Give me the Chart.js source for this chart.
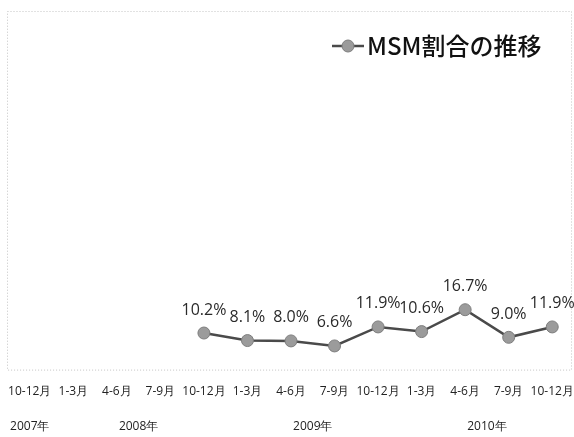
<!DOCTYPE html>
<html>
<head>
<meta charset="utf-8">
<script src="https://cdn.jsdelivr.net/npm/chart.js@4"></script>
<style>
  html, body { margin: 0; padding: 0; background: #fff; }
  #wrap { width: 574px; height: 437px; position: relative; }
</style>
</head>
<body>
<div id="wrap"><canvas id="c" width="574" height="437"></canvas></div>
<script>
// ---- data ----
const quarterLabels = ['10-12月','1-3月','4-6月','7-9月','10-12月','1-3月','4-6月','7-9月','10-12月','1-3月','4-6月','7-9月','10-12月'];
const msmShare = [null, null, null, null, 10.2, 8.1, 8.0, 6.6, 11.9, 10.6, 16.7, 9.0, 11.9];
const yearLabels = ['2007年','2008年','2009年','2010年'];
const yearFirstIndex = [0, 1, 5, 9];
const yearLastIndex = [0, 4, 8, 12];
const seriesName = 'MSM割合の推移';

const LABEL_FONT = '"Open Sans", "Noto Sans", sans-serif';
const CJK_FONT = '"Noto Sans CJK JP", "Noto Sans", sans-serif';

const decor = {
  id: 'decor',
  beforeDatasetsDraw(chart) {
    const { ctx, chartArea: a } = chart;
    ctx.save();
    ctx.strokeStyle = '#c4c4c4';
    ctx.lineWidth = 1;
    ctx.setLineDash([1, 2]);
    ctx.strokeRect(a.left - 0.5, a.top + 0.5, a.right - a.left - 2, a.bottom - a.top);
    ctx.restore();
  },
  afterDatasetsDraw(chart) {
    const { ctx, chartArea: a } = chart;
    const meta = chart.getDatasetMeta(0);
    const ds = chart.data.datasets[0];
    // data labels
    ctx.save();
    ctx.font = '16px ' + LABEL_FONT;
    ctx.fillStyle = '#2a2a2a';
    ctx.textAlign = 'center';
    ctx.textBaseline = 'middle';
    meta.data.forEach((pt, i) => {
      const v = ds.data[i];
      if (v === null || v === undefined) return;
      ctx.fillText(v.toFixed(1) + '%', pt.x, pt.y - 23);
    });
    ctx.restore();

    // legend (custom, inside plot area top-right)
    ctx.save();
    const ly = a.top + 35;
    const lx = a.left + 324;
    ctx.strokeStyle = ds.borderColor;
    ctx.lineWidth = 2.5;
    ctx.beginPath();
    ctx.moveTo(lx, ly);
    ctx.lineTo(lx + 32, ly);
    ctx.stroke();
    ctx.beginPath();
    ctx.arc(lx + 16, ly, 6, 0, Math.PI * 2);
    ctx.fillStyle = ds.pointBackgroundColor;
    ctx.fill();
    ctx.lineWidth = 1;
    ctx.strokeStyle = ds.pointBorderColor;
    ctx.stroke();
    ctx.font = '500 24px ' + CJK_FONT;
    ctx.fillStyle = '#111';
    ctx.textAlign = 'left';
    ctx.textBaseline = 'middle';
    ctx.fillText(ds.label, lx + 35, ly);
    ctx.restore();

    // year labels via the x scale
    const xs = chart.scales.x;
    ctx.save();
    ctx.font = '12px ' + LABEL_FONT;
    ctx.fillStyle = '#222';
    ctx.textAlign = 'center';
    ctx.textBaseline = 'middle';
    yearLabels.forEach((t, i) => {
      const x = xs.getPixelForValue((yearFirstIndex[i] + yearLastIndex[i]) / 2);
      ctx.fillText(t, x, a.bottom + 57);
    });
    ctx.restore();
  }
};

new Chart(document.getElementById('c'), {
  type: 'line',
  data: {
    labels: quarterLabels,
    datasets: [{
      label: seriesName,
      data: msmShare,
      borderColor: '#4a4a4a',
      borderWidth: 2.5,
      pointBackgroundColor: '#9b9b9b',
      pointBorderColor: '#7d7d7d',
      pointBorderWidth: 1,
      pointRadius: 6,
      tension: 0,
      spanGaps: false
    }]
  },
  options: {
    responsive: false,
    animation: false,
    events: [],
    layout: { autoPadding: false, padding: { left: 8, right: 0, top: 11, bottom: 23 } },
    plugins: { legend: { display: false }, tooltip: { enabled: false } },
    scales: {
      x: {
        offset: true,
        grid: { display: false, drawTicks: false },
        border: { display: false },
        afterFit(scale) { scale.paddingLeft = 0; scale.paddingRight = 0; },
        ticks: {
          autoSkip: false, maxRotation: 0, minRotation: 0, padding: 15,
          color: '#222', font: { size: 12, family: LABEL_FONT }
        }
      },
      y: {
        display: false,
        min: 0, max: 100
      }
    }
  },
  plugins: [decor]
});
</script>
</body>
</html>
